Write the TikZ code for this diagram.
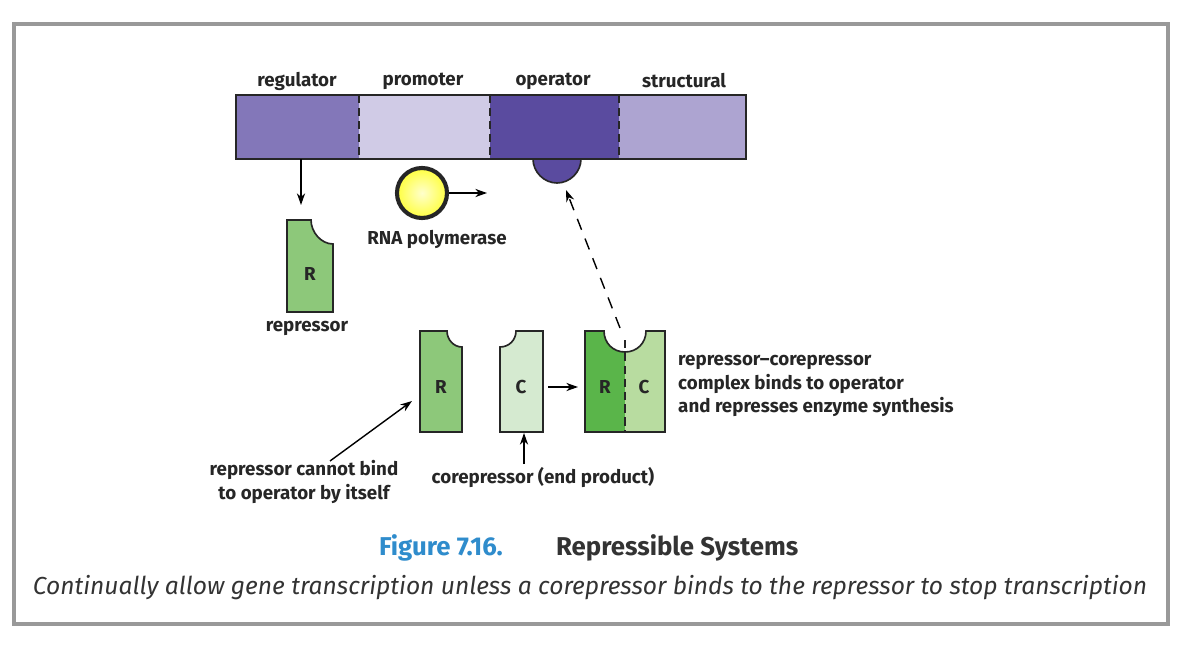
\documentclass[tikz,border=0pt]{standalone}
\usepackage{fontspec}
\setmainfont{Fira Sans}
\usetikzlibrary{arrows.meta}
\definecolor{regc}{HTML}{8377B9}
\definecolor{proc}{HTML}{D0CBE6}
\definecolor{opc}{HTML}{5A4B9F}
\definecolor{strc}{HTML}{ADA4D1}
\definecolor{repc}{HTML}{8DC87A}
\definecolor{corc}{HTML}{D5EAD0}
\definecolor{darkrep}{HTML}{5AB54A}
\definecolor{lightcor}{HTML}{B8DCA0}
\definecolor{figblue}{HTML}{2F8CCC}
\begin{document}
\begin{tikzpicture}[x=0.03cm, y=-0.03cm,
    lbl/.style={font=\fontsize{16}{20.4}\selectfont\bfseries, text=black!85, inner sep=0pt},
    arr/.style={-{Stealth[length=10pt, width=7pt]}, line width=1.2pt},
    outline/.style={draw=black!85, line width=1.4pt}]
    % Frame
    \fill [white] (0, 0) rectangle (1185, 647);
    \draw [gray!80, line width=3pt] (14, 24) rectangle (1168, 624);
    % Gene bar
    \fill [regc] (236, 95) rectangle (359, 159);
    \fill [proc] (359, 95) rectangle (490, 159);
    \fill [opc] (490, 95) rectangle (619, 159);
    \fill [strc] (619, 95) rectangle (746, 159);
    \draw [outline, fill=opc] (533, 159) .. controls (533, 172) and (544, 183) .. (557, 183)
        .. controls (570, 183) and (581, 172) .. (581, 159);
    \fill [opc] (534, 155) rectangle (580, 160);
    \draw [outline] (236, 95) rectangle (746, 159);
    \foreach \x in {359, 490, 619}
        \draw [dashed, dash pattern=on 7pt off 4pt, line width=1.4pt, black!85] (\x, 95) -- (\x, 159);
    \node [lbl] (lreg) at (297, 81) {regulator};
    \node [lbl] (lpro) at (423, 81) {promoter};
    \node [lbl] (lop) at (553, 81) {operator};
    \node [lbl] (lstr) at (684, 81) {structural};
    \coordinate (opsite) at (566, 190);
    \coordinate (regout) at (301, 159);
    \coordinate (repin) at (301, 205);
    % Repressor alone
    \draw [outline, fill=repc] (287, 312) -- (287, 220) -- (311, 220)
        .. controls (311, 232) and (321, 244) .. (333, 244) -- (333, 312) -- cycle;
    \node [lbl] (R1) at (310, 274) {R};
    \node [lbl] (lrep) at (307, 328) {repressor};
    \draw [arr] (regout) -- (repin);
    % RNA polymerase
    \node [circle, draw=black!85, line width=3.5pt, inner color=yellow!20, outer color=yellow!75,
        minimum size=1.5cm] (pol) at (422, 193) {};
    \coordinate (polgo) at (487, 193);
    \draw [arr] (pol.east) -- (polgo);
    \node [lbl] (lpol) at (437, 239) {RNA polymerase};
    % Repressor and corepressor
    \draw [outline, fill=repc] (420, 432) -- (420, 331) -- (447, 331)
        .. controls (447, 340) and (454, 347) .. (462, 347) -- (462, 432) -- cycle;
    \node [lbl] (R2) at (441, 387) {R};
    \draw [outline, fill=corc] (543, 432) -- (543, 331) -- (516, 331)
        .. controls (516, 340) and (509, 347) .. (500, 347) -- (500, 432) -- cycle;
    \node [lbl] (C2) at (521, 387) {C};
    % Complex
    \fill [darkrep] (585, 331) -- (604, 331) .. controls (604, 343) and (613, 352) .. (625, 352)
        -- (625, 432) -- (585, 432) -- cycle;
    \fill [lightcor] (625, 352) .. controls (637, 352) and (646, 343) .. (646, 331)
        -- (665, 331) -- (665, 432) -- (625, 432) -- cycle;
    \draw [outline] (585, 331) -- (604, 331) .. controls (604, 343) and (613, 352) .. (625, 352)
        .. controls (637, 352) and (646, 343) .. (646, 331) -- (665, 331) -- (665, 432)
        -- (585, 432) -- cycle;
    \draw [dashed, dash pattern=on 7pt off 4pt, line width=1.2pt, black!85] (625, 340) -- (625, 432);
    \node [lbl] (R3) at (605, 387) {R};
    \node [lbl] (C3) at (644, 387) {C};
    \coordinate (cin) at (578, 387);
    \coordinate (cout) at (548, 387);
    \draw [arr] (cout) -- (cin);
    \coordinate (cbind) at (620, 328);
    \draw [arr, dashed, dash pattern=on 10pt off 8pt] (cbind) -- (opsite);
    \node [lbl, align=left, anchor=west] (lcomp) at (678, 386)
        {repressor–corepressor\\complex binds to operator\\and represses enzyme synthesis};
    % Notes
    \node [lbl, align=center] (lnot) at (304, 482) {repressor cannot bind\\to operator by itself};
    \coordinate (nottail) at (330, 461);
    \coordinate (nottip) at (412, 401);
    \draw [arr] (nottail) -- (nottip);
    \node [lbl] (lcor) at (543, 478) {corepressor (end product)};
    \coordinate (cortail) at (524, 464);
    \coordinate (cortip) at (524, 433);
    \draw [arr] (cortail) -- (cortip);
    % Caption
    \node [font=\fontsize{22}{26}\selectfont\bfseries, text=figblue, anchor=east] (fignum) at (507, 548) {Figure 7.16.};
    \node [font=\fontsize{22}{26}\selectfont\bfseries, text=black!80, anchor=west] (figtitle) at (552, 548) {Repressible Systems};
    \node [font=\fontsize{21}{25}\selectfont\itshape, text=black!80] (figcap) at (590, 588)
        {Continually allow gene transcription unless a corepressor binds to the repressor to stop transcription};
\end{tikzpicture}
\end{document}
